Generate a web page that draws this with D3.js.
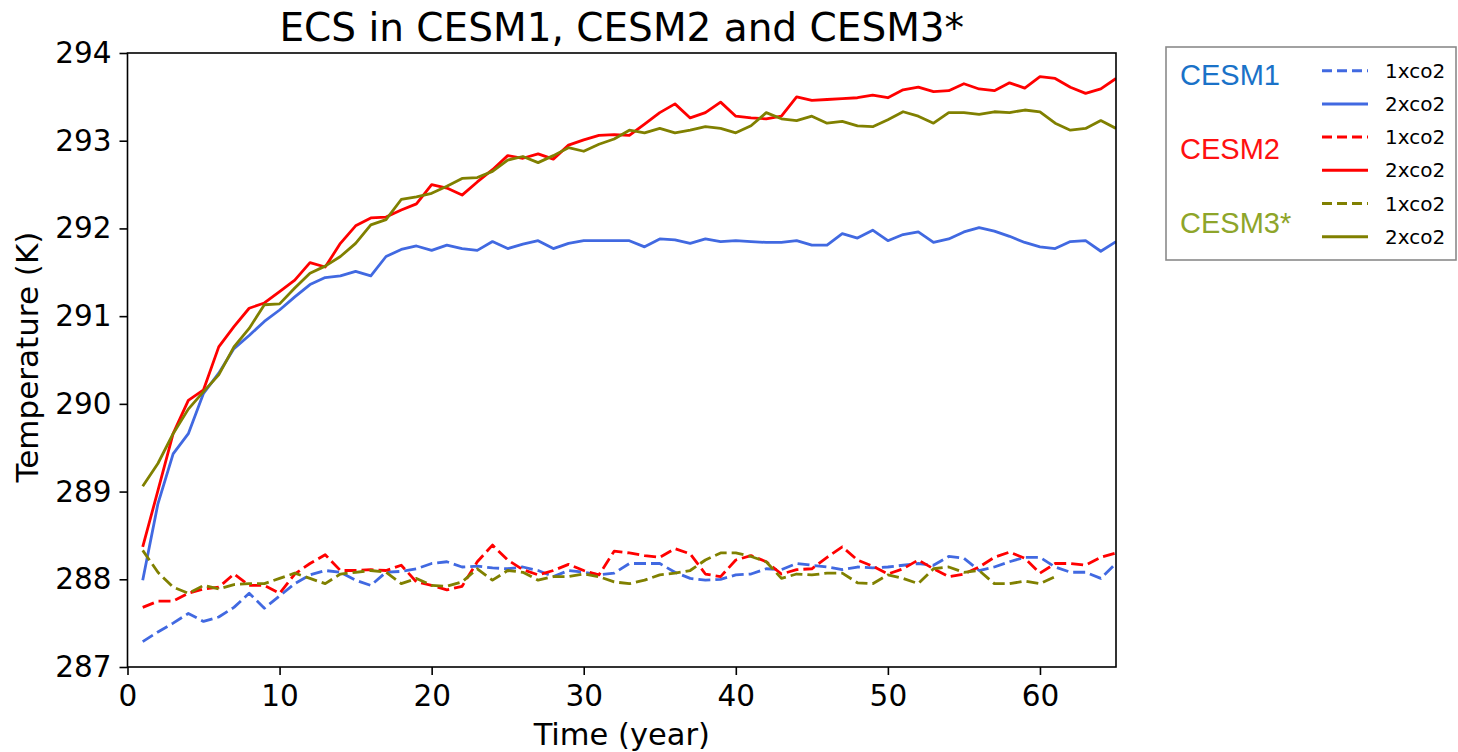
<!DOCTYPE html>
<html>
<head>
<meta charset="utf-8">
<script src="https://cdn.jsdelivr.net/npm/d3@7"></script>
<style>
  html, body { margin: 0; padding: 0; background: #fff; }
  svg { display: block; }
</style>
</head>
<body>
<svg id="chart" width="1458" height="752"></svg>
<script>
// ---- data ----
const years = d3.range(1, 66);
const xTicks = [0, 10, 20, 30, 40, 50, 60];
const yTicks = [287, 288, 289, 290, 291, 292, 293, 294];

const cesm1_2x = [287.99,288.86,289.43,289.66,290.12,290.35,290.63,290.78,290.94,291.07,
  291.22,291.36,291.44,291.46,291.51,291.46,291.68,291.76,291.80,291.75,
  291.81,291.77,291.75,291.85,291.77,291.82,291.86,291.77,291.83,291.86,
  291.86,291.86,291.86,291.79,291.88,291.87,291.83,291.88,291.85,291.86,
  291.85,291.84,291.84,291.86,291.81,291.81,291.94,291.89,291.98,291.86,
  291.93,291.96,291.84,291.88,291.96,292.01,291.97,291.91,291.84,291.79,
  291.77,291.85,291.86,291.74,291.85];

const cesm2_2x = [288.37,289.01,289.66,290.04,290.16,290.65,290.88,291.09,291.15,291.28,
  291.41,291.61,291.56,291.83,292.03,292.12,292.13,292.21,292.28,292.50,
  292.46,292.38,292.53,292.67,292.83,292.80,292.85,292.79,292.95,293.01,
  293.06,293.07,293.06,293.19,293.32,293.42,293.26,293.32,293.44,293.28,
  293.26,293.25,293.28,293.50,293.46,293.47,293.48,293.49,293.52,293.49,
  293.58,293.61,293.56,293.57,293.65,293.59,293.57,293.66,293.60,293.73,
  293.71,293.61,293.54,293.59,293.71];

const cesm3_2x = [289.06,289.32,289.66,289.94,290.14,290.33,290.65,290.86,291.13,291.14,
  291.32,291.49,291.57,291.68,291.83,292.04,292.10,292.33,292.36,292.40,
  292.48,292.57,292.58,292.65,292.78,292.82,292.75,292.83,292.92,292.88,
  292.96,293.02,293.12,293.09,293.14,293.09,293.12,293.16,293.14,293.09,
  293.17,293.32,293.25,293.23,293.28,293.20,293.22,293.17,293.16,293.24,
  293.33,293.28,293.20,293.32,293.32,293.30,293.33,293.32,293.35,293.33,
  293.20,293.12,293.14,293.23,293.14];

const cesm1_1x = [287.29,287.40,287.50,287.61,287.52,287.57,287.68,287.84,287.67,287.81,
  287.95,288.05,288.10,288.08,287.99,287.93,288.08,288.09,288.12,288.18,
  288.20,288.14,288.15,288.13,288.12,288.14,288.10,288.03,288.10,288.08,
  288.05,288.07,288.18,288.18,288.18,288.08,288.01,287.99,288.00,288.05,
  288.06,288.12,288.11,288.18,288.16,288.14,288.11,288.14,288.13,288.14,
  288.16,288.18,288.16,288.26,288.24,288.10,288.14,288.20,288.25,288.25,
  288.14,288.08,288.08,288.01,288.18];

const cesm2_1x = [287.68,287.75,287.75,287.84,287.89,287.91,288.06,287.93,287.93,287.84,
  288.06,288.18,288.28,288.10,288.10,288.11,288.10,288.16,287.97,287.93,
  287.88,287.92,288.20,288.39,288.22,288.11,288.05,288.10,288.17,288.10,
  288.05,288.32,288.30,288.27,288.25,288.35,288.29,288.06,288.03,288.22,
  288.27,288.20,288.06,288.11,288.12,288.25,288.37,288.22,288.15,288.06,
  288.12,288.22,288.12,288.03,288.06,288.14,288.25,288.31,288.24,288.07,
  288.18,288.18,288.16,288.25,288.30];

// CESM3* 1xco2 stops at year 61
const cesm3_1x = [288.33,288.08,287.91,287.84,287.93,287.89,287.94,287.95,287.95,288.01,
  288.07,288.01,287.95,288.06,288.08,288.10,288.08,287.95,288.01,287.93,
  287.92,287.97,288.12,287.99,288.10,288.08,287.99,288.03,288.03,288.06,
  288.03,287.97,287.95,287.99,288.05,288.07,288.10,288.22,288.30,288.30,
  288.26,288.20,288.01,288.06,288.05,288.07,288.07,287.96,287.95,288.05,
  288.01,287.95,288.12,288.14,288.08,288.10,287.95,287.95,287.98,287.95,
  288.03];

const models = ["CESM1", "CESM2", "CESM3*"];
const runLabels = ["1xco2", "2xco2"];

// ---- styles ----
const lineColors = { CESM1: "#4169e1", CESM2: "#ff0000", "CESM3*": "#808000" };
const textColors = { CESM1: "#1a72c8", CESM2: "#ff1010", "CESM3*": "#8ea52a" };

const series = [
  { model: "CESM1", run: "1xco2", values: cesm1_1x },
  { model: "CESM1", run: "2xco2", values: cesm1_2x },
  { model: "CESM2", run: "1xco2", values: cesm2_1x },
  { model: "CESM2", run: "2xco2", values: cesm2_2x },
  { model: "CESM3*", run: "1xco2", values: cesm3_1x },
  { model: "CESM3*", run: "2xco2", values: cesm3_2x },
];

const svg = d3.select("#chart");
const m = { left: 127.5, right: 1116, top: 53, bottom: 667 };

const x = d3.scaleLinear().domain([0, 65]).range([m.left, m.right]);
const y = d3.scaleLinear().domain([287, 294]).range([m.bottom, m.top]);

const FONT = "'DejaVu Sans', sans-serif";

// lines
const line = d3.line().x((d, i) => x(years[i])).y(d => y(d));
const plot = svg.append("g");
plot.append("clipPath").attr("id", "clip").append("rect")
  .attr("x", m.left).attr("y", m.top).attr("width", m.right - m.left).attr("height", m.bottom - m.top);
const lg = plot.append("g").attr("clip-path", "url(#clip)");
series.forEach(s => {
  lg.append("path")
    .attr("d", line(s.values))
    .attr("fill", "none")
    .attr("stroke", lineColors[s.model])
    .attr("stroke-width", 2.8)
    .attr("stroke-linejoin", "round")
    .attr("stroke-dasharray", s.run === "1xco2" ? "12,5" : null);
});

// axes
const xAxis = d3.axisBottom(x).tickValues(xTicks).tickSize(8).tickPadding(10);
const yAxis = d3.axisLeft(y).tickValues(yTicks).tickSize(8).tickPadding(8).tickFormat(d3.format("d"));

const gx = svg.append("g").attr("transform", `translate(0,${m.bottom})`).call(xAxis);
const gy = svg.append("g").attr("transform", `translate(${m.left},0)`).call(yAxis);
[gx, gy].forEach(g => {
  g.select(".domain").remove();
  g.selectAll(".tick line").attr("stroke", "#000").attr("stroke-width", 1.6);
  g.selectAll(".tick text").attr("fill", "#000").style("font-family", FONT).style("font-size", "29.5px");
});

// frame
svg.append("rect")
  .attr("x", m.left).attr("y", m.top)
  .attr("width", m.right - m.left).attr("height", m.bottom - m.top)
  .attr("fill", "none").attr("stroke", "#000").attr("stroke-width", 1.6);

// title & labels
svg.append("text").attr("x", (m.left + m.right) / 2).attr("y", 41)
  .attr("text-anchor", "middle").style("font-family", FONT).style("font-size", "39px")
  .attr("fill", "#000").text("ECS in CESM1, CESM2 and CESM3*");
svg.append("text").attr("x", (m.left + m.right) / 2).attr("y", 745)
  .attr("text-anchor", "middle").style("font-family", FONT).style("font-size", "30.5px")
  .attr("fill", "#000").text("Time (year)");
svg.append("text").attr("transform", `translate(38,${(m.top + m.bottom) / 2 - 3}) rotate(-90)`)
  .attr("text-anchor", "middle").style("font-family", FONT).style("font-size", "31px")
  .attr("fill", "#000").text("Temperature (K)");

// legend
const leg = svg.append("g");
leg.append("rect").attr("x", 1166).attr("y", 47).attr("width", 290).attr("height", 213)
  .attr("fill", "#fff").attr("stroke", "#8a8a8a").attr("stroke-width", 1.6);
const modelY = d3.scalePoint().domain(models).range([85, 233]);
models.forEach(md => {
  leg.append("text").attr("x", 1180).attr("y", modelY(md))
    .style("font-family", "'Liberation Sans', Arial, sans-serif").style("font-size", "29px")
    .attr("fill", textColors[md]).text(md);
});
const entryY = d3.scalePoint().domain(d3.range(series.length)).range([70.7, 236.7]);
series.forEach((s, i) => {
  const yy = entryY(i);
  leg.append("line").attr("x1", 1322).attr("x2", 1368).attr("y1", yy).attr("y2", yy)
    .attr("stroke", lineColors[s.model]).attr("stroke-width", 3)
    .attr("stroke-dasharray", s.run === "1xco2" ? "10,5" : null);
  leg.append("text").attr("x", 1385).attr("y", yy + 7)
    .style("font-family", FONT).style("font-size", "20px").attr("fill", "#000").text(s.run);
});
</script>
</body>
</html>
